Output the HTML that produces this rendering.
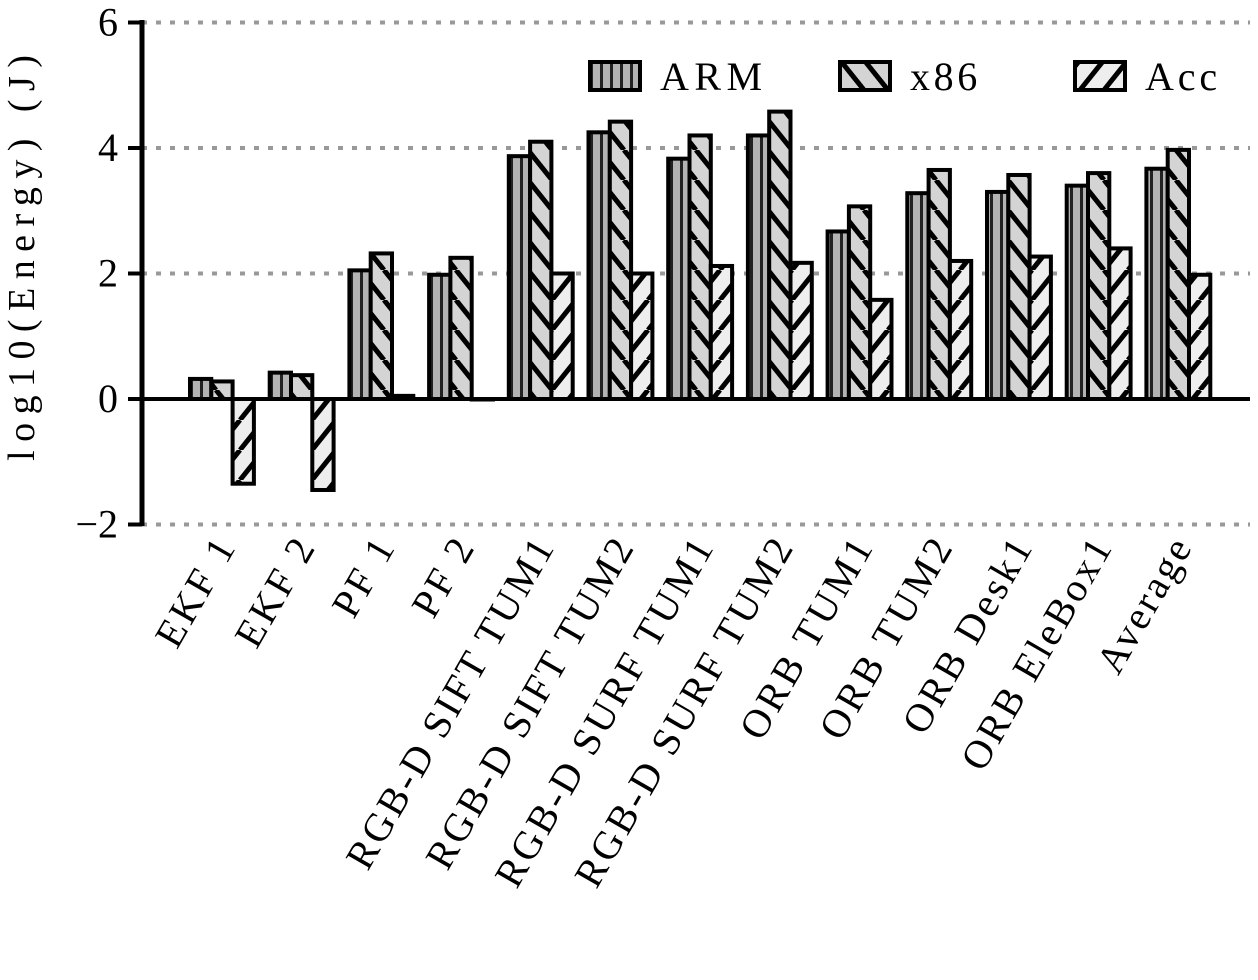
<!DOCTYPE html>
<html><head><meta charset="utf-8"><style>body{margin:0;background:#fff}svg{display:block}text{font-family:"Liberation Serif",serif;fill:#000}</style></head>
<body>
<svg id="c" width="1258" height="980">
<defs>
<pattern id="pA" patternUnits="userSpaceOnUse" width="10" height="10"><rect width="10" height="10" fill="#b3b3b3"/><rect x="0" y="0" width="3" height="10" fill="#222"/></pattern>
<pattern id="pX" patternUnits="userSpaceOnUse" width="24" height="30"><rect width="24" height="30" fill="#d4d4d4"/><line x1="0" y1="0" x2="24" y2="30" stroke="#000" stroke-width="5"/><line x1="-24" y1="0" x2="0" y2="30" stroke="#000" stroke-width="5"/><line x1="24" y1="0" x2="48" y2="30" stroke="#000" stroke-width="5"/></pattern>
<pattern id="pC" patternUnits="userSpaceOnUse" width="24" height="30"><rect width="24" height="30" fill="#eeeeee"/><line x1="24" y1="0" x2="0" y2="30" stroke="#000" stroke-width="5"/><line x1="48" y1="0" x2="24" y2="30" stroke="#000" stroke-width="5"/><line x1="0" y1="0" x2="-24" y2="30" stroke="#000" stroke-width="5"/></pattern>
</defs>
</svg>
<script>
const categories=["EKF 1","EKF 2","PF 1","PF 2","RGB-D SIFT TUM1","RGB-D SIFT TUM2","RGB-D SURF TUM1","RGB-D SURF TUM2","ORB TUM1","ORB TUM2","ORB Desk1","ORB EleBox1","Average"];
const armValues=[0.32,0.42,2.05,1.98,3.87,4.25,3.83,4.2,2.67,3.28,3.3,3.4,3.67];
const x86Values=[0.28,0.38,2.32,2.25,4.1,4.42,4.2,4.58,3.07,3.65,3.57,3.6,3.97];
const accValues=[-1.35,-1.45,0.05,0.0,2.0,2.0,2.12,2.17,1.58,2.2,2.27,2.4,1.98];
const yTicks=[-2,0,2,4,6];
const yTickLabels=["\u22122","0","2","4","6"];
const svg=document.getElementById('c');const NS="http://www.w3.org/2000/svg";
function mk(t,a,p){const e=document.createElementNS(NS,t);for(const k in a)e.setAttribute(k,a[k]);(p||svg).appendChild(e);return e;}
function widen(t,f){const L=t.getComputedTextLength();t.setAttribute('textLength',L*f);t.setAttribute('lengthAdjust','spacing');}
const y=v=>399-v*62.75;
const gx=i=>190+i*79.7;
const BW=21.3;
yTicks.forEach((t,i)=>{
 if(t!==0){const g=mk('line',{x1:142,x2:1250,y1:y(t),y2:y(t),stroke:'#999','stroke-width':4,'stroke-dasharray':'5 9'});}
 const tk=mk('line',{x1:128,x2:142,y1:y(t),y2:y(t),stroke:'#000','stroke-width':4});
 const tl=mk('text',{x:118,y:y(t)+13,'text-anchor':'end','font-size':40});tl.textContent=yTickLabels[i];
});
const series=[[armValues,'url(#pA)','arm'],[x86Values,'url(#pX)','x86'],[accValues,'url(#pC)','acc']];
categories.forEach((c,i)=>{
 series.forEach((s,j)=>{const v=s[0][i];const x=gx(i)+j*BW;const y0=y(0),y1=y(v);
  const r=mk('rect',{x:x,y:Math.min(y0,y1),width:BW,height:Math.max(Math.abs(y1-y0),0.5),fill:s[1],stroke:'#000','stroke-width':4});
  });
 const cx=gx(i)+BW*1.5+14;
 const t=mk('text',{x:cx,y:548,'text-anchor':'end','font-size':40,transform:'rotate(-60 '+cx+' 548)'});t.textContent=c;
 widen(t,1.12);
 
});
const zl=mk('line',{x1:140,x2:1250,y1:y(0),y2:y(0),stroke:'#000','stroke-width':4});
const ax=mk('line',{x1:142,x2:142,y1:20,y2:526,stroke:'#000','stroke-width':5});
const yt=mk('text',{x:34,y:258,'text-anchor':'middle','font-size':38,transform:'rotate(-90 34 258)'});yt.textContent='log10(Energy) (J)';
widen(yt,1.5);
[['ARM','url(#pA)',590],['x86','url(#pX)',840],['Acc','url(#pC)',1075]].forEach(l=>{
 const g=mk('g',{});
 mk('rect',{x:l[2],y:62,width:50,height:28,fill:l[1],stroke:'#000','stroke-width':4},g);
 const t=mk('text',{x:l[2]+70,y:90,'font-size':40},g);t.textContent=l[0];
 widen(t,1.12);
});
</script>
</body></html>
